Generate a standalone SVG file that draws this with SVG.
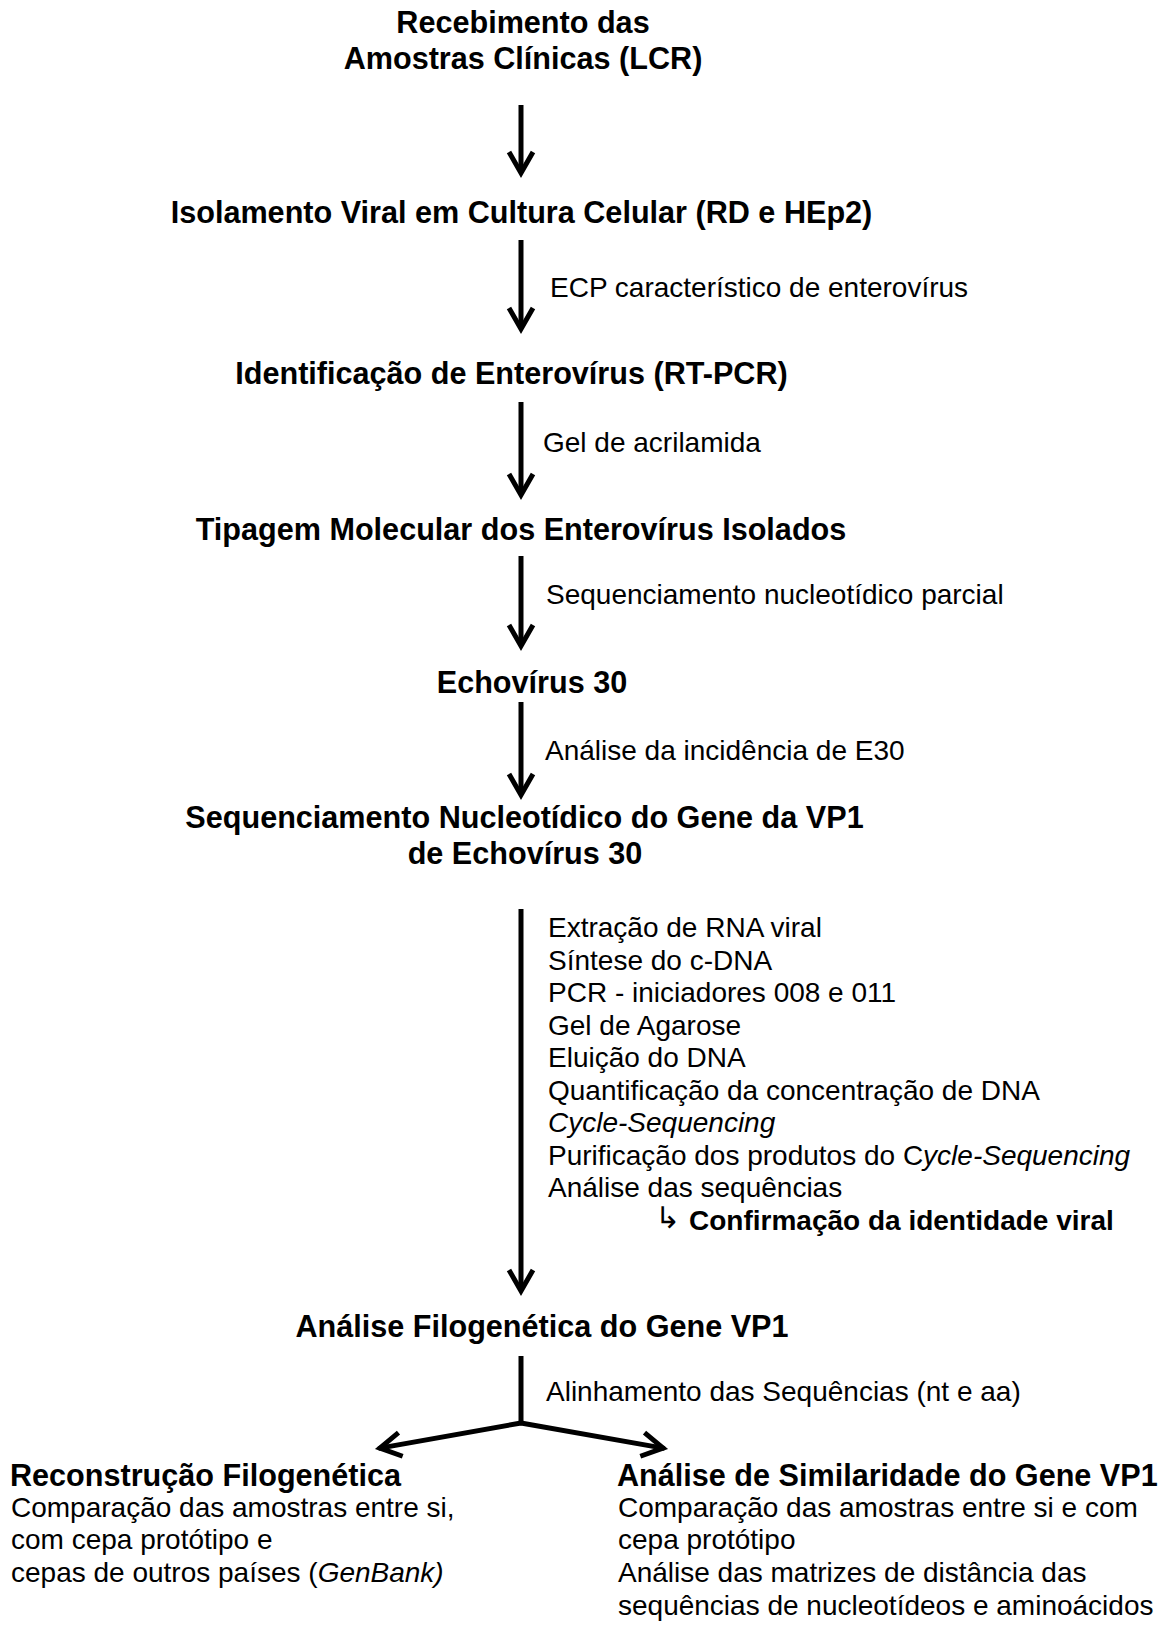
<svg xmlns="http://www.w3.org/2000/svg" width="1165" height="1638" viewBox="0 0 1165 1638">
<style>
text{font-family:"Liberation Sans",Arial,Helvetica,sans-serif;fill:#000}
.t{font-weight:bold;font-size:30.6px;text-anchor:middle}
.h{font-weight:bold;font-size:30.6px}
.l{font-size:28px}
.b{font-weight:bold;font-size:28px}
.i{font-style:italic}
.c{stroke:#000;stroke-width:5;fill:none;marker-end:url(#ah)}
</style>
<defs>
<marker id="ah" markerUnits="userSpaceOnUse" markerWidth="40" markerHeight="40" viewBox="-30 -20 40 40" refX="0" refY="0" orient="auto" overflow="visible">
<path d="M-21,-12 L0,0 L-21,12" fill="none" stroke="#000" stroke-width="5" stroke-linejoin="miter" stroke-miterlimit="10"/>
</marker>
</defs>
<rect width="1165" height="1638" fill="#fff"/>
<g id="connectors">
<line class="c" x1="521" y1="105" x2="521" y2="173"/>
<line class="c" x1="521" y1="240" x2="521" y2="329"/>
<line class="c" x1="521" y1="402" x2="521" y2="495"/>
<line class="c" x1="521" y1="556" x2="521" y2="646"/>
<line class="c" x1="521" y1="702" x2="521" y2="795"/>
<line class="c" x1="521" y1="909" x2="521" y2="1291"/>
<line x1="521" y1="1356" x2="521" y2="1425" stroke="#000" stroke-width="5"/>
<line class="c" x1="521" y1="1423" x2="379.9" y2="1448.1" stroke-linecap="round"/>
<line class="c" x1="521" y1="1423" x2="663.1" y2="1448.1" stroke-linecap="round"/>
<text class="l" x="550" y="297">ECP característico de enterovírus</text>
<text class="l" x="543" y="452">Gel de acrilamida</text>
<text class="l" x="546" y="604">Sequenciamento nucleotídico parcial</text>
<text class="l" x="545" y="760">Análise da incidência de E30</text>
<text class="l" x="546" y="1401">Alinhamento das Sequências (nt e aa)</text>
<g id="steps">
<text class="l" x="548" y="937">Extração de RNA viral</text>
<text class="l" x="548" y="969.5">Síntese do c-DNA</text>
<text class="l" x="548" y="1002">PCR - iniciadores 008 e 011</text>
<text class="l" x="548" y="1034.5">Gel de Agarose</text>
<text class="l" x="548" y="1067">Eluição do DNA</text>
<text class="l" x="548" y="1099.5">Quantificação da concentração de DNA</text>
<text class="l i" x="548" y="1132">Cycle-Sequencing</text>
<text class="l" x="548" y="1164.5">Purificação dos produtos do C<tspan class="i">ycle-Sequencing</tspan></text>
<text class="l" x="548" y="1197">Análise das sequências</text>
<text x="655" y="1228" style="font-family:'DejaVu Sans',sans-serif;font-size:30px">↳</text>
<text class="b" x="689" y="1229.5">Confirmação da identidade viral</text>
</g>
</g>
<g id="n1"><text class="t" x="523" y="33">Recebimento das</text><text class="t" x="523" y="69">Amostras Clínicas (LCR)</text></g>
<g id="n2"><text class="t" x="521.5" y="223">Isolamento Viral em Cultura Celular (RD e HEp2)</text></g>
<g id="n3"><text class="t" x="511.5" y="384">Identificação de Enterovírus (RT-PCR)</text></g>
<g id="n4"><text class="t" x="521" y="540">Tipagem Molecular dos Enterovírus Isolados</text></g>
<g id="n5"><text class="t" x="532" y="693">Echovírus 30</text></g>
<g id="n6"><text class="t" x="524.5" y="828">Sequenciamento Nucleotídico do Gene da VP1</text><text class="t" x="525" y="864">de Echovírus 30</text></g>
<g id="n7"><text class="t" x="542" y="1337">Análise Filogenética do Gene VP1</text></g>
<g id="n8">
<text class="h" x="10" y="1486">Reconstrução Filogenética</text>
<text class="l" x="11" y="1517">Comparação das amostras entre si,</text>
<text class="l" x="11" y="1549">com cepa protótipo e</text>
<text class="l" x="11" y="1582">cepas de outros países (<tspan class="i">GenBank)</tspan></text>
</g>
<g id="n9">
<text class="h" x="617" y="1486">Análise de Similaridade do Gene VP1</text>
<text class="l" x="618" y="1517">Comparação das amostras entre si e com</text>
<text class="l" x="618" y="1549">cepa protótipo</text>
<text class="l" x="618" y="1582">Análise das matrizes de distância das</text>
<text class="l" x="618" y="1615">sequências de nucleotídeos e aminoácidos</text>
</g>
</svg>
